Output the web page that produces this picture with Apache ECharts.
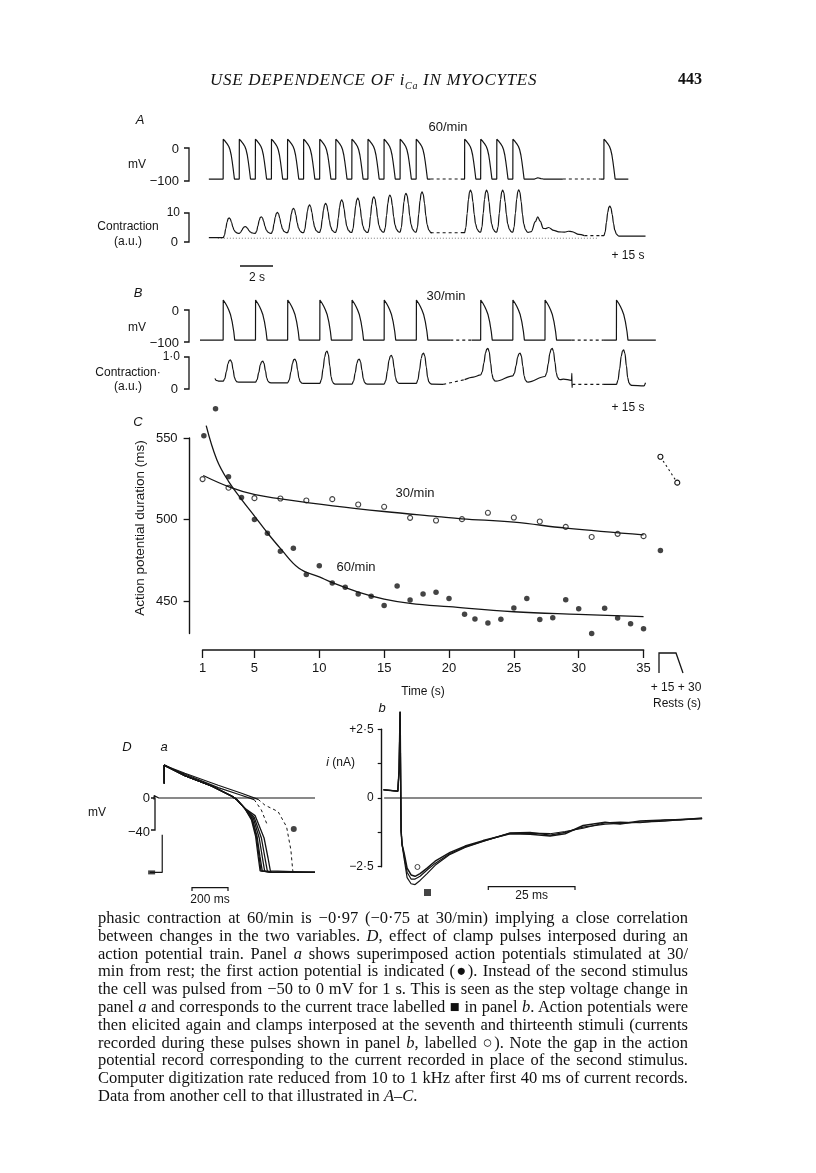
<!DOCTYPE html>
<html>
<head>
<meta charset="utf-8">
<script src="https://cdn.jsdelivr.net/npm/echarts@6/dist/echarts.min.js"></script>
<style>
  html, body { margin: 0; padding: 0; background: #fff; }
  #page { position: relative; width: 816px; height: 1173px; overflow: hidden; }
  #main { position: absolute; left: 0; top: 0; width: 816px; height: 1173px; }
  .hdr { position: absolute; top: 70px; font: italic 17px "Liberation Serif", serif; color: #111; letter-spacing: 0.7px; }
  .pg { position: absolute; top: 70px; font: bold 16px "Liberation Serif", serif; color: #111; }
  .cap { position: absolute; left: 98px; top: 909px; width: 590px; font: 16.5px "Liberation Serif", serif; line-height: 17.8px; color: #111; }
  .cap div { text-align: justify; text-align-last: justify; white-space: nowrap; }
  .cap div.last { text-align-last: left; }
</style>
</head>
<body>
<div id="page">
  <div id="main"></div>
  <div class="hdr" style="left:210px">USE DEPENDENCE OF i<sub style="font-size:10px">Ca</sub> IN MYOCYTES</div>
  <div class="pg" style="left:678px">443</div>
  <div class="cap">
    <div>phasic contraction at 60/min is −0·97 (−0·75 at 30/min) implying a close correlation</div>
    <div>between changes in the two variables. <i>D</i>, effect of clamp pulses interposed during an</div>
    <div>action potential train. Panel <i>a</i> shows superimposed action potentials stimulated at 30/</div>
    <div>min from rest; the first action potential is indicated (●). Instead of the second stimulus</div>
    <div>the cell was pulsed from −50 to 0 mV for 1 s. This is seen as the step voltage change in</div>
    <div>panel <i>a</i> and corresponds to the current trace labelled ■ in panel <i>b</i>. Action potentials were</div>
    <div>then elicited again and clamps interposed at the seventh and thirteenth stimuli (currents</div>
    <div>recorded during these pulses shown in panel <i>b</i>, labelled ○). Note the gap in the action</div>
    <div>potential record corresponding to the current recorded in place of the second stimulus.</div>
    <div>Computer digitization rate reduced from 10 to 1 kHz after first 40 ms of current records.</div>
    <div class="last">Data from another cell to that illustrated in <i>A–C</i>.</div>
  </div>
</div>
<script>
// ---------- panel C: action potential duration (ms) vs time (s) ----------
const fastTimes = [1.1, 2, 3, 4, 5, 6, 7, 8, 9, 10, 11, 12, 13, 14, 15, 16, 17, 18, 19, 20,
  21.2, 22, 23, 24, 25, 26, 27, 28, 29, 30, 31, 32, 33, 34, 35];
const fastApd = [551.4, 568, 526.2, 513.5, 500, 491.6, 480.5, 482.4, 466.2, 471.7, 461.1, 458.4,
  454.3, 452.9, 447.3, 459.2, 450.6, 454.3, 455.3, 451.6, 441.8, 439, 436.5, 438.8, 445.7, 451.6,
  438.6, 439.8, 450.8, 445.3, 430.1, 445.5, 439.5, 436.1, 433];
const slowTimes = [1, 3, 5, 7, 9, 11, 13, 15, 17, 19, 21, 23, 25, 27, 29, 31, 33, 35];
const slowApd = [524.8, 519.5, 513.1, 512.9, 511.7, 512.5, 509.2, 507.8, 501, 499.4, 500.2,
  504.1, 501.2, 498.8, 495.5, 489.3, 491.2, 489.8];
// fitted curves
const fitFastT = [1.28, 2.1, 3, 4.03, 5.05, 5.96, 7.03, 8.43, 10, 11, 13, 15, 17, 20, 25, 30, 35];
const fitFastV = [557.6, 536.7, 523.4, 512.1, 501.6, 492.2, 482, 470.1, 464.8, 461.3, 455.5,
  451.2, 448.6, 446.5, 443.4, 441.8, 440.4];
const fitSlowT = [1.05, 3.09, 5.05, 7.03, 11.05, 15, 19.1, 21, 25, 29, 35];
const fitSlowV = [527, 519.9, 515.2, 512.7, 508.4, 504.9, 501.8, 500.4, 498.4, 494.7, 490.6];
// rests (+15 s, +30 s) plotted to the right of the time axis
const restSlowX = [36.3, 37.6];
const restSlowV = [538.5, 522.6];
const restFastX = [36.3];
const restFastV = [481];
const timeTicks = [1, 5, 10, 15, 20, 25, 30, 35];
const apdTicks = [450, 500, 550];

// ---------- panels A and B: trains (time in s, display time with gaps) ----------
const apShapeA = [[0, -94], [0.005, 27], [0.14, 20], [0.25, 13], [0.35, 5], [0.42, -4],
  [0.5, -21], [0.56, -40], [0.62, -62], [0.7, -94]];
const apShapeB = [[0, -94], [0.005, 31], [0.14, 21], [0.25, 11], [0.35, 0], [0.46, -15],
  [0.56, -37], [0.66, -68], [0.72, -94]];
const twitchShapeA = [[0, 0], [0.08, 0.12], [0.16, 0.45], [0.24, 0.78], [0.31, 0.96], [0.37, 1],
  [0.44, 0.94], [0.52, 0.72], [0.6, 0.42], [0.68, 0.2], [0.78, 0.07], [0.9, 0.01], [0.95, 0]];
const twitchShapeB = [[0, 0], [0.1, 0.12], [0.2, 0.45], [0.3, 0.82], [0.38, 0.97], [0.45, 1],
  [0.53, 0.9], [0.62, 0.55], [0.7, 0.22], [0.78, 0.07], [0.88, 0.01], [0.95, 0]];

const beatsA1 = [1.44, 2.44, 3.44, 4.44, 5.44, 6.44, 7.44, 8.44, 9.44, 10.44, 11.44, 12.44, 13.44];
const beatsA2 = [16.45, 17.45, 18.45, 19.45];
const beatsA3 = [25.11];
const peaksA1 = [8.3, 5.3, 8.7, 10.2, 11.6, 12.8, 13.3, 14.5, 15.1, 15.6, 16.2, 16.8, 17.3];
const troughA1 = [1.5, 3.0, 3.0, 3.0, 3.2, 3.2, 3.3, 3.3, 3.3, 3.3, 3.4, 3.4, 3.4, 3.2];
const peaksA2 = [17.9, 17.9, 17.9, 18.0];
const troughA2 = [3.2, 3.4, 3.4, 3.4, 3.3];
const peaksA3 = [12.4];
const troughA3 = [2.2, 2.0];
const tailA = [[20.6, 3.6], [20.85, 7], [21.0, 8.7], [21.15, 7.2], [21.34, 4.7], [21.5, 4.6],
  [21.67, 5.0], [22.0, 4.0], [22.3, 3.5], [22.67, 3.4], [22.9, 3.7], [23.11, 3.6], [23.56, 2.6], [23.9, 2.2]];
const bumpA = [[20.9, -94], [21.0, -90], [21.2, -93], [21.35, -94]];

const beatsB1 = [1.44, 3.45, 5.45, 7.45, 9.45, 11.45, 13.45];
const beatsB2 = [17.45, 19.45, 21.45];
const beatsB3 = [25.89];
const peaksB1 = [0.93, 0.89, 0.96, 1.21, 0.96, 1.08, 1.15];
const troughB1 = [0.25, 0.22, 0.2, 0.18, 0.16, 0.16, 0.18, 0.16];
const peaksB2 = [1.3, 1.15, 1.3];
const troughB2 = [0.45, 0.42, 0.4];
const afterB2 = [0.25, 0.22, 0.3];
const peaksB3 = [1.25];
const headB = [[0.93, 0.34], [1.0, 0.28], [1.2, 0.25]];
const tailB = [[22.6, 0.32], [23.1, 0.28], [23.12, 0.5], [23.13, 0.05], [23.15, 0.15]];

// ---------- panel D a: superimposed action potentials (ms, mV) ----------
const stepTrace = [[-57, -2], [-56, 3], [-52, 2], [-45, 0.5], [-30, 0], [838, 0]];
const preTrace = [[-79, -93], [-11, -93], [-11, -46]];
const plateauMain = [[0, 18], [0, 41], [4, 40], [115, 28], [263, 15], [374, 2.5], [402, -1.7], [448, -13]];
const repolTails = [
  [[485, -27.5], [508, -48], [522, -73], [533, -91], [540, -93]],
  [[488, -27], [512, -48], [527, -73], [538, -91], [546, -93]],
  [[490, -26], [516, -48], [532, -73], [545, -91], [552, -93]],
  [[495, -25], [528, -50], [546, -75], [558, -91], [566, -93]],
  [[500, -24], [540, -50], [560, -75], [573, -91], [580, -93]],
  [[505, -22], [555, -50], [577, -75], [590, -91], [597, -93]]
];
const restAfter = [[600, -93], [838, -93]];
const firstApSolid = [[0, 41], [4, 41], [115, 31], [300, 16], [430, 6], [522, -1.7]];
const firstApDotted = [[522, -1.7], [560, -9], [597, -13], [633, -17], [680, -36], [704, -65], [714, -90], [717, -93]];
const secondUpper = [[4, 40], [115, 30], [300, 13], [420, 4], [500, -2]];
const secondUpperDash = [[500, -2], [540, -15], [575, -35]];
const firstApMark = [[720, -38.75]];

// ---------- panel D b: clamp currents (ms, nA) ----------
const curT = [-4.81, -0.66, -0.29, 0, 0.29, 0.58, 1.15, 2.02, 3.17, 4.32, 5.76, 7.78, 10.09,
  14.41, 18.73, 23.92, 31.7, 37.46, 43.23, 47.55, 52.74, 59.08, 63.4, 69.16, 76.37, 80.69, 87.03];
const curSquare = [0.3, 0.25, 1.0, 3.14, -1.2, -1.7, -2.2, -2.9, -3.12, -3.15, -3.0, -2.75, -2.45,
  -2.05, -1.8, -1.58, -1.27, -1.25, -1.35, -1.25, -1.06, -0.95, -0.92, -0.88, -0.84, -0.79, -0.75];
const curCircle1 = [0.3, 0.25, 1.0, 3.14, -1.2, -1.7, -2.0, -2.55, -2.8, -2.85, -2.75, -2.55, -2.3,
  -1.98, -1.75, -1.55, -1.3, -1.32, -1.38, -1.3, -1.0, -0.88, -0.95, -0.84, -0.8, -0.8, -0.73];
const curCircle2 = [0.3, 0.25, 1.0, 3.14, -1.2, -1.7, -2.1, -2.7, -2.95, -2.95, -2.85, -2.62, -2.38,
  -2.02, -1.78, -1.57, -1.29, -1.28, -1.3, -1.22, -1.1, -0.9, -0.88, -0.9, -0.8, -0.78, -0.75];
const circleMark = [[5.0, -2.51]];
const squareMark = [[7.9, -3.44]];
const currentTicks = [-2.5, -1.25, 0, 1.25, 2.5];
const currentLabels = [-2.5, 0, 2.5];

// ---------- helpers ----------
const INK = '#151515';
const zip = (xs, ys) => xs.map((x, i) => [x, ys[i]]);

function apTrain(shape, beats, start, end) {
  const base = shape[0][1];
  const pts = [[start, base]];
  beats.forEach(b => shape.forEach(p => pts.push([b + p[0], p[1]])));
  pts.push([end, base]);
  return pts;
}

// twitch: rising phase from the trough before, falling phase to the level after
function twitches(shape, beats, peaks, before, after) {
  const pkIdx = shape.findIndex(p => p[1] === 1);
  const pts = [];
  beats.forEach((b, i) => {
    shape.forEach((p, j) => {
      const base = j <= pkIdx ? before[i] : after[i];
      pts.push([b + p[0], base + (peaks[i] - base) * p[1]]);
    });
  });
  return pts;
}

function line(grid, data, extra) {
  return Object.assign({
    type: 'line', xAxisIndex: grid, yAxisIndex: grid, data: data,
    showSymbol: false, symbol: 'none', clip: false, silent: true,
    lineStyle: { color: INK, width: 1.2 }
  }, extra || {});
}
function smoothLine(grid, data) {
  return line(grid, data, { smooth: 0.35, smoothMonotone: 'x' });
}
function dashed(grid, data, width) {
  return line(grid, data, { lineStyle: { color: INK, width: width || 1.1, type: [3, 3] } });
}

function txt(x, y, text, font, align) {
  return {
    type: 'text', x: x, y: y, silent: true,
    style: {
      text: text, fill: INK, font: font || '12px "Liberation Sans", Arial, sans-serif',
      textAlign: align || 'center', textVerticalAlign: 'middle',
      align: align || 'center', verticalAlign: 'middle'
    }
  };
}
function poly(points, width) {
  return { type: 'polyline', silent: true, shape: { points: points },
    style: { stroke: INK, lineWidth: width || 1.2, fill: null } };
}
// scale bracket "]" with little ticks to the left
function bracket(x, y1, y2) {
  return poly([[x - 5, y1], [x, y1], [x, y2], [x - 5, y2]], 1.3);
}

const SANS = '"Liberation Sans", Arial, sans-serif';
const F12 = '12px ' + SANS;
const F13 = '13px ' + SANS;
const FIT = 'italic 13px ' + SANS;

// ---------- assemble trace data ----------
const aMv1 = apTrain(apShapeA, beatsA1, 0.55, 14.34);
const aMv2 = apTrain(apShapeA, beatsA2, 16.22, 20.8).concat(bumpA, [[22.56, -94]]);
const aMv3 = apTrain(apShapeA, beatsA3, 24.89, 26.63);

const aCon1 = [[0.55, troughA1[0]]].concat(
  twitches(twitchShapeA, beatsA1, peaksA1, troughA1.slice(0, 13), troughA1.slice(1)),
  [[14.34, 3.2]]);
const aCon2 = [[16.22, 3.2]].concat(
  twitches(twitchShapeA, beatsA2, peaksA2, troughA2.slice(0, 4), troughA2.slice(1)), tailA);
const aCon3 = [[24.95, 2.2]].concat(
  twitches(twitchShapeA, beatsA3, peaksA3, troughA3.slice(0, 1), troughA3.slice(1)), [[27.7, 2.0]]);

const bMv1 = apTrain(apShapeB, beatsB1, 0, 15.56);
const bMv2 = apTrain(apShapeB, beatsB2, 16.89, 23.11);
const bMv3 = apTrain(apShapeB, beatsB3, 25.11, 28.34);

const bCon1 = headB.concat(
  twitches(twitchShapeB, beatsB1, peaksB1, troughB1.slice(0, 7), troughB1.slice(1)), [[15.12, 0.15]]);
const bCon2 = [[16.45, 0.3], [17.0, 0.38]].concat(
  twitches(twitchShapeB, beatsB2, peaksB2, troughB2, afterB2), tailB);
const bCon3 = [[25.11, 0.15]].concat(
  twitches(twitchShapeB, beatsB3, peaksB3, [0.15], [0.12]), [[27.6, 0.1], [27.7, 0.2]]);

const apBundle = repolTails.map(t => plateauMain.concat(t, restAfter));

// ---------- grids ----------
const grids = [
  { left: 189.6, top: 438, width: 518.8, height: 195.6 },   // 0 C data
  { left: 202.6, top: 640, width: 440.98, height: 10 },     // 1 C time axis
  { left: 200, top: 130, width: 460, height: 51 },          // 2 A mV
  { left: 200, top: 184, width: 460, height: 58 },          // 3 A contraction
  { left: 200, top: 294, width: 460, height: 48 },          // 4 B mV
  { left: 200, top: 342.1, width: 460, height: 53.2 },      // 5 B contraction
  { left: 150, top: 760, width: 165, height: 115 },         // 6 D a
  { left: 381.7, top: 729.3, width: 320.3, height: 137.4 }  // 7 D b
];
const hidden = (min, max, gi) => ({ type: 'value', gridIndex: gi, min: min, max: max, show: false });

const xAxes = [
  hidden(0, 40, 0),
  {
    type: 'value', gridIndex: 1, min: 1, max: 35, position: 'bottom',
    axisLine: { show: true, lineStyle: { color: INK, width: 1.6 } },
    axisTick: { show: true, length: 8, lineStyle: { color: INK, width: 1.3 }, customValues: timeTicks },
    axisLabel: { color: INK, fontSize: 13, fontFamily: SANS, margin: 12, customValues: timeTicks },
    splitLine: { show: false },
    name: 'Time (s)', nameLocation: 'middle', nameGap: 36,
    nameTextStyle: { color: INK, fontSize: 12, fontFamily: SANS }
  },
  hidden(0, 28.6, 2), hidden(0, 28.6, 3), hidden(0, 28.6, 4), hidden(0, 28.6, 5),
  hidden(-79, 838, 6), hidden(-5.3, 87.0, 7)
];
const yAxes = [
  {
    type: 'value', gridIndex: 0, min: 430, max: 550, position: 'left',
    axisLine: { show: true, lineStyle: { color: INK, width: 1.4 } },
    axisTick: { show: true, length: 6, lineStyle: { color: INK, width: 1.3 }, customValues: apdTicks },
    axisLabel: { color: INK, fontSize: 13, fontFamily: SANS, margin: 12, customValues: apdTicks },
    splitLine: { show: false }
  },
  hidden(0, 1, 1),
  hidden(-100, 55, 2), hidden(0, 20, 3), hidden(-100, 50, 4), hidden(-0.2, 1.5, 5),
  hidden(-96.25, 47.5, 6),
  {
    type: 'value', gridIndex: 7, min: -2.5, max: 2.5, position: 'left',
    axisLine: { show: true, onZero: false, lineStyle: { color: INK, width: 1.4 } },
    axisTick: { show: true, length: 4, lineStyle: { color: INK, width: 1.2 }, customValues: currentTicks },
    axisLabel: {
      color: INK, fontSize: 12, fontFamily: SANS, margin: 8, customValues: currentLabels,
      formatter: v => v > 0 ? '+2·5' : (v < 0 ? '−2·5' : '0')
    },
    splitLine: { show: false }
  }
];

// ---------- series ----------
const series = [
  // C
  line(0, zip(fitFastT, fitFastV), { smooth: 0.4, lineStyle: { color: INK, width: 1.3 } }),
  line(0, zip(fitSlowT, fitSlowV), { smooth: 0.4, lineStyle: { color: INK, width: 1.3 } }),
  {
    type: 'scatter', xAxisIndex: 0, yAxisIndex: 0, data: zip(slowTimes, slowApd), clip: false,
    symbol: 'circle', symbolSize: 5, silent: true,
    itemStyle: { color: '#fff', borderColor: INK, borderWidth: 1.1 }
  },
  {
    type: 'scatter', xAxisIndex: 0, yAxisIndex: 0, data: zip(fastTimes, fastApd), clip: false,
    symbol: 'circle', symbolSize: 5.5, silent: true, itemStyle: { color: INK }
  },
  line(0, zip(restSlowX, restSlowV), {
    showSymbol: true, symbol: 'circle', symbolSize: 5,
    itemStyle: { color: '#fff', borderColor: INK, borderWidth: 1.1 },
    lineStyle: { color: INK, width: 1.1, type: [2, 3] }
  }),
  {
    type: 'scatter', xAxisIndex: 0, yAxisIndex: 0, data: zip(restFastX, restFastV), clip: false,
    symbol: 'circle', symbolSize: 5.5, silent: true, itemStyle: { color: INK }
  },
  // A
  line(2, aMv1), dashed(2, [[14.34, -94], [16.22, -94]]), line(2, aMv2),
  dashed(2, [[22.56, -94], [24.89, -94]]), line(2, aMv3),
  line(3, [[1.11, 1.3], [24.77, 1.3]], { lineStyle: { color: '#555', width: 0.8, type: [1, 2] } }),
  smoothLine(3, aCon1), dashed(3, [[14.34, 3.2], [16.22, 3.2]]), smoothLine(3, aCon2),
  dashed(3, [[23.9, 2.2], [24.95, 2.2]]), smoothLine(3, aCon3),
  // B
  line(4, bMv1), dashed(4, [[15.56, -94], [16.89, -94]]), line(4, bMv2),
  dashed(4, [[23.11, -94], [25.11, -94]]), line(4, bMv3),
  smoothLine(5, bCon1), dashed(5, [[15.12, 0.15], [16.45, 0.3]]), smoothLine(5, bCon2),
  dashed(5, [[23.15, 0.15], [25.11, 0.15]]), smoothLine(5, bCon3),
  // D a
  line(6, stepTrace), line(6, preTrace)
].concat(apBundle.map(d => line(6, d, { lineStyle: { color: INK, width: 1.3 } })), [
  line(6, firstApSolid), dashed(6, firstApDotted, 1), line(6, secondUpper), dashed(6, secondUpperDash, 1),
  {
    type: 'scatter', xAxisIndex: 6, yAxisIndex: 6, data: firstApMark, clip: false,
    symbol: 'circle', symbolSize: 6, silent: true, itemStyle: { color: INK }
  },
  {
    type: 'scatter', xAxisIndex: 6, yAxisIndex: 6, data: [[-70, -93]], clip: false,
    symbol: 'rect', symbolSize: [7, 4], silent: true, itemStyle: { color: INK }
  },
  // D b
  line(7, [[-4.6, 0], [87.0, 0]], { lineStyle: { color: INK, width: 1.2 } }),
  line(7, zip(curT, curSquare)), line(7, zip(curT, curCircle1), { lineStyle: { color: INK, width: 1.5 } }),
  line(7, zip(curT, curCircle2)),
  {
    type: 'scatter', xAxisIndex: 7, yAxisIndex: 7, data: circleMark, clip: false,
    symbol: 'circle', symbolSize: 5, silent: true,
    itemStyle: { color: '#fff', borderColor: INK, borderWidth: 1 }
  },
  {
    type: 'scatter', xAxisIndex: 7, yAxisIndex: 7, data: squareMark, clip: false,
    symbol: 'rect', symbolSize: 7, silent: true, itemStyle: { color: INK }
  }
]);

// ---------- labels, brackets and scale bars ----------
const graphics = [
  // A
  txt(140, 120, 'A', FIT), txt(448, 127, '60/min', F13),
  txt(179, 149, '0', F13, 'right'), txt(137, 165, 'mV', F12), txt(179, 181, '−100', F13, 'right'),
  bracket(189, 148, 181),
  txt(180, 213, '10', F12, 'right'), txt(178, 242, '0', F13, 'right'), bracket(189, 213, 242),
  txt(128, 227, 'Contraction', F12), txt(128, 242, '(a.u.)', F12),
  poly([[240, 266], [273, 266]], 1.4), txt(257, 278, '2 s', F12),
  txt(628, 256, '+ 15 s', F12),
  // B
  txt(138, 293, 'B', FIT), txt(446, 296, '30/min', F13),
  txt(179, 311, '0', F13, 'right'), txt(137, 328, 'mV', F12), txt(179, 343, '−100', F13, 'right'),
  bracket(189, 310, 342),
  txt(180, 357, '1·0', F12, 'right'), txt(178, 389, '0', F13, 'right'), bracket(189, 357, 389),
  txt(128, 373, 'Contraction·', F12), txt(128, 387, '(a.u.)', F12),
  txt(628, 408, '+ 15 s', F12),
  // C
  txt(138, 422, 'C', FIT), txt(415, 493, '30/min', F13), txt(356, 567, '60/min', F13),
  {
    type: 'text', x: 140, y: 528, rotation: Math.PI / 2, silent: true,
    style: {
      text: 'Action potential duration (ms)', fill: INK, font: '13.5px ' + SANS,
      textAlign: 'center', textVerticalAlign: 'middle', align: 'center', verticalAlign: 'middle'
    }
  },
  poly([[659, 673], [659, 653], [676, 653], [683, 673]], 1.3),
  txt(676, 688, '+ 15 + 30', F12), txt(677, 704, 'Rests (s)', F12),
  // D a
  txt(127, 747, 'D', FIT), txt(164, 747, 'a', FIT),
  txt(150, 798, '0', F13, 'right'), txt(150, 832, '−40', F13, 'right'), txt(97, 813, 'mV', F12),
  poly([[151, 798], [155, 798], [155, 830], [151, 830]], 1.3),
  poly([[192, 891], [192, 887.7], [228, 887.7], [228, 891]], 1.2), txt(210, 900, '200 ms', F12),
  // D b
  txt(382, 708, 'b', FIT),
  {
    type: 'text', x: 355, y: 763, silent: true,
    style: {
      text: '{i|i} (nA)', fill: INK, font: F12, textAlign: 'right', textVerticalAlign: 'middle',
      align: 'right', verticalAlign: 'middle',
      rich: { i: { fontStyle: 'italic', fontSize: 12, fontFamily: SANS } }
    }
  },
  poly([[488.3, 890], [488.3, 886.7], [575, 886.7], [575, 890]], 1.2), txt(531.7, 896, '25 ms', F12)
];

const chart = echarts.init(document.getElementById('main'), null, { renderer: 'canvas' });
chart.setOption({
  animation: false,
  backgroundColor: 'transparent',
  grid: grids,
  xAxis: xAxes,
  yAxis: yAxes,
  series: series,
  graphic: { elements: graphics }
});
</script>
</body>
</html>
